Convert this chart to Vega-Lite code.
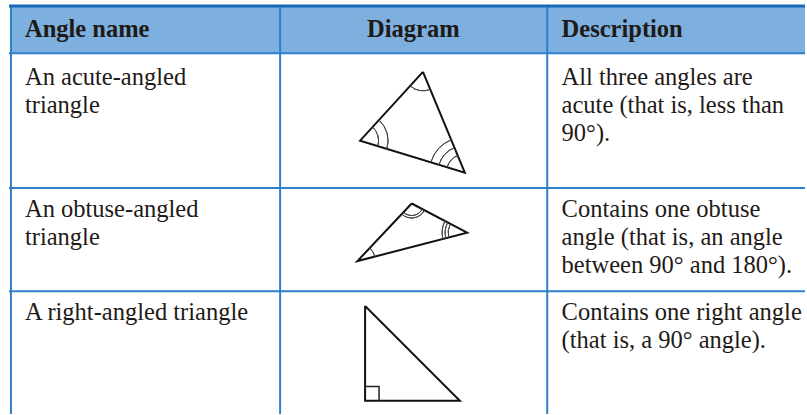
{
  "$schema": "https://vega.github.io/schema/vega-lite/v6.json",
  "width": 807,
  "height": 415,
  "padding": 0,
  "autosize": {"type": "fit", "contains": "padding"},
  "background": "white",
  "config": {"view": {"stroke": null}},
  "datasets": {
    "header": [{"x": 11, "x2": 807, "y": 6, "y2": 53.5}],
    "toprule": [{"x": 9, "x2": 807, "y": 6, "y2": 6}],
    "rules": [
      {"x": 9, "x2": 807, "y": 53.5, "y2": 53.5},
      {"x": 9, "x2": 807, "y": 188.5, "y2": 188.5},
      {"x": 9, "x2": 807, "y": 292, "y2": 292},
      {"x": 11, "x2": 11, "y": 6, "y2": 415},
      {"x": 280.8, "x2": 280.8, "y": 6, "y2": 415},
      {"x": 548.6, "x2": 548.6, "y": 6, "y2": 415}
    ],
    "heads": [
      {"x": 25, "y": 37.5, "t": "Angle name"},
      {"x": 368, "y": 37.5, "t": "Diagram"},
      {"x": 563, "y": 37.5, "t": "Description"}
    ],
    "cells": [
      {"x": 25, "y": 85, "t": "An acute-angled\ntriangle"},
      {"x": 563, "y": 85, "t": "All three angles are\nacute (that is, less than\n90°)."},
      {"x": 25, "y": 218, "t": "An obtuse-angled\ntriangle"},
      {"x": 563, "y": 218, "t": "Contains one obtuse\nangle (that is, an angle\nbetween 90° and 180°)."},
      {"x": 25, "y": 320.5, "t": "A right-angled triangle"},
      {"x": 563, "y": 320.5, "t": "Contains one right angle\n(that is, a 90° angle)."}
    ],
    "shapes": [
      {"shape": "acute", "ord": 0, "x": 424, "y": 72},
      {"shape": "acute", "ord": 1, "x": 361, "y": 141},
      {"shape": "acute", "ord": 2, "x": 466, "y": 173},
      {"shape": "acute", "ord": 3, "x": 424, "y": 72},
      {"shape": "obtuse", "ord": 0, "x": 412.7, "y": 204},
      {"shape": "obtuse", "ord": 1, "x": 358.3, "y": 261.7},
      {"shape": "obtuse", "ord": 2, "x": 468.3, "y": 233.3},
      {"shape": "obtuse", "ord": 3, "x": 412.7, "y": 204},
      {"shape": "right", "ord": 0, "x": 366, "y": 306.7},
      {"shape": "right", "ord": 1, "x": 366, "y": 401.7},
      {"shape": "right", "ord": 2, "x": 461, "y": 401.7},
      {"shape": "right", "ord": 3, "x": 366, "y": 306.7}
    ],
    "square": [
      {"shape": "sq", "ord": 0, "x": 366, "y": 387.5},
      {"shape": "sq", "ord": 1, "x": 380, "y": 387.5},
      {"shape": "sq", "ord": 2, "x": 380, "y": 401.7}
    ],
    "arcs": [
      {"x": 424, "y": 72, "r": 19, "a1": 157.4, "a2": 222.4},
      {"x": 361, "y": 141, "r": 18.5, "a1": 42.4, "a2": 107},
      {"x": 361, "y": 141, "r": 28, "a1": 42.4, "a2": 107},
      {"x": 466, "y": 173, "r": 18.5, "a1": 287, "a2": 337.4},
      {"x": 466, "y": 173, "r": 27, "a1": 287, "a2": 337.4},
      {"x": 466, "y": 173, "r": 35.5, "a1": 287, "a2": 337.4},
      {"x": 412.7, "y": 204, "r": 12, "a1": 117.8, "a2": 223.3},
      {"x": 412.7, "y": 204, "r": 14.5, "a1": 117.8, "a2": 223.3},
      {"x": 358.3, "y": 261.7, "r": 18, "a1": 43.3, "a2": 75.5},
      {"x": 468.3, "y": 233.3, "r": 19, "a1": 255.5, "a2": 297.8},
      {"x": 468.3, "y": 233.3, "r": 22, "a1": 255.5, "a2": 297.8},
      {"x": 468.3, "y": 233.3, "r": 25, "a1": 255.5, "a2": 297.8}
    ]
  },
  "layer": [
    {
      "data": {"name": "header"},
      "mark": {"type": "rect", "color": "#7db0de"},
      "encoding": {
        "x": {"field": "x", "type": "quantitative", "scale": {"domain": [0, 807], "nice": false, "zero": false}, "axis": null},
        "x2": {"field": "x2"},
        "y": {"field": "y", "type": "quantitative", "scale": {"domain": [0, 415], "nice": false, "zero": false, "reverse": true}, "axis": null},
        "y2": {"field": "y2"}
      }
    },
    {
      "data": {"name": "rules"},
      "mark": {"type": "rule", "color": "#2f80cc", "strokeWidth": 2},
      "encoding": {
        "x": {"field": "x", "type": "quantitative", "axis": null},
        "x2": {"field": "x2"},
        "y": {"field": "y", "type": "quantitative", "axis": null},
        "y2": {"field": "y2"}
      }
    },
    {
      "data": {"name": "toprule"},
      "mark": {"type": "rule", "color": "#1768b8", "strokeWidth": 3},
      "encoding": {
        "x": {"field": "x", "type": "quantitative", "axis": null},
        "x2": {"field": "x2"},
        "y": {"field": "y", "type": "quantitative", "axis": null},
        "y2": {"field": "y2"}
      }
    },
    {
      "data": {"name": "shapes"},
      "mark": {"type": "line", "color": "#111111", "strokeWidth": 2, "strokeJoin": "miter"},
      "encoding": {
        "x": {"field": "x", "type": "quantitative", "axis": null},
        "y": {"field": "y", "type": "quantitative", "axis": null},
        "detail": {"field": "shape"},
        "order": {"field": "ord"}
      }
    },
    {
      "data": {"name": "square"},
      "mark": {"type": "line", "color": "#222222", "strokeWidth": 1.5, "strokeJoin": "miter"},
      "encoding": {
        "x": {"field": "x", "type": "quantitative", "axis": null},
        "y": {"field": "y", "type": "quantitative", "axis": null},
        "detail": {"field": "shape"},
        "order": {"field": "ord"}
      }
    },
    {
      "data": {"name": "arcs"},
      "mark": {"type": "arc", "fill": null, "stroke": "#444444", "strokeWidth": 1},
      "encoding": {
        "x": {"field": "x", "type": "quantitative", "axis": null},
        "y": {"field": "y", "type": "quantitative", "axis": null},
        "theta": {"field": "a1", "type": "quantitative", "stack": null, "scale": {"domain": [0, 360], "range": [0, 6.283185307]}},
        "theta2": {"field": "a2"},
        "radius": {"field": "r", "type": "quantitative", "scale": {"type": "linear", "domain": [0, 50], "range": [0, 50], "zero": true}},
        "radius2": {"field": "r"}
      }
    },
    {
      "data": {"name": "heads"},
      "mark": {"type": "text", "align": "left", "baseline": "alphabetic", "font": "'Liberation Serif', 'Times New Roman', serif", "fontSize": 24.5, "fontWeight": "bold", "color": "#1f1a17"},
      "encoding": {
        "x": {"field": "x", "type": "quantitative", "axis": null},
        "y": {"field": "y", "type": "quantitative", "axis": null},
        "text": {"field": "t"}
      }
    },
    {
      "data": {"name": "cells"},
      "mark": {"type": "text", "align": "left", "baseline": "alphabetic", "font": "'Liberation Serif', 'Times New Roman', serif", "fontSize": 24.5, "lineHeight": 28, "lineBreak": "\n", "color": "#1f1a17"},
      "encoding": {
        "x": {"field": "x", "type": "quantitative", "axis": null},
        "y": {"field": "y", "type": "quantitative", "axis": null},
        "text": {"field": "t"}
      }
    }
  ]
}
